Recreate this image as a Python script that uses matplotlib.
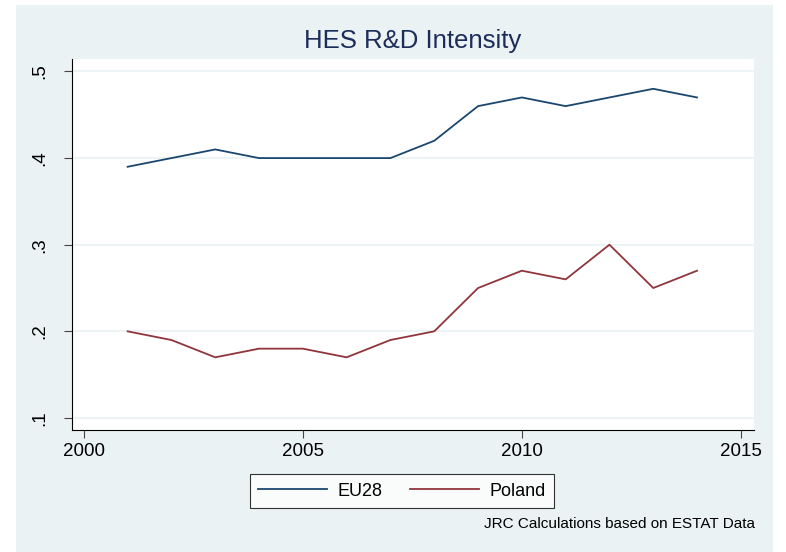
import matplotlib
matplotlib.use("Agg")
import matplotlib.pyplot as plt
from matplotlib.patches import Rectangle

plt.rcParams['font.family'] = ['Liberation Sans', 'DejaVu Sans']

years = [2001, 2002, 2003, 2004, 2005, 2006, 2007, 2008, 2009, 2010, 2011, 2012, 2013, 2014]
eu28 = [.39, .40, .41, .40, .40, .40, .40, .42, .46, .47, .46, .47, .48, .47]
poland = [.20, .19, .17, .18, .18, .17, .19, .20, .25, .27, .26, .30, .25, .27]
yticks = [.1, .2, .3, .4, .5]
ylabels = ['.1', '.2', '.3', '.4', '.5']
xticks = [2000, 2005, 2010, 2015]

W, H = 786, 552
fig = plt.figure(figsize=(W / 100, H / 100), dpi=100)
fig.patch.set_facecolor('white')
# light background panel (Stata s2color style)
fig.patches.append(Rectangle((16 / W, 0), (773 - 16) / W, (552 - 5) / H,
                             transform=fig.transFigure, facecolor='#eaf2f3',
                             edgecolor='none', zorder=-10))

ax = fig.add_axes([72 / W, 1 - 430 / H, (754 - 72) / W, (430 - 59) / H])
ax.set_facecolor('white')

ax.plot(years, eu28, color='#1a476f', lw=1.3, label='EU28')
ax.plot(years, poland, color='#90353b', lw=1.3, label='Poland')

ax.set_xlim(1999.73, 2015.3)
ax.set_ylim(0.0861, 0.5144)
ax.set_xticks(xticks)
ax.set_xticklabels([str(x) for x in xticks], fontsize=13.5)
ax.set_yticks(yticks)
ax.set_yticklabels(ylabels, fontsize=13.5, rotation=90, va='center')
ax.grid(axis='y', color='#eaf2f3', lw=1.2)
ax.set_axisbelow(True)
for s in ['top', 'right']:
    ax.spines[s].set_visible(False)
ax.spines['left'].set_color('black')
ax.spines['bottom'].set_color('black')
ax.tick_params(direction='out', length=6, width=0.8, color='#444444')
ax.tick_params(axis='x', pad=3)
ax.tick_params(axis='y', pad=11)

fig.text(413 / W, 1 - 41 / H, 'HES R&D Intensity', ha='center', va='center',
         fontsize=18.5, color='#1c2d5a')

leg = fig.legend(loc='center', bbox_to_anchor=(402 / W, 1 - 491 / H), ncol=2,
                 fontsize=13, frameon=True, fancybox=False, handlelength=3.8,
                 handletextpad=0.6, columnspacing=1.5, borderpad=0.45)
leg.get_frame().set_edgecolor('black')
leg.get_frame().set_linewidth(0.8)

fig.text(755 / W, 1 - 524 / H, 'JRC Calculations based on ESTAT Data',
         ha='right', va='center', fontsize=11)

fig.savefig('out.png', dpi=100)
